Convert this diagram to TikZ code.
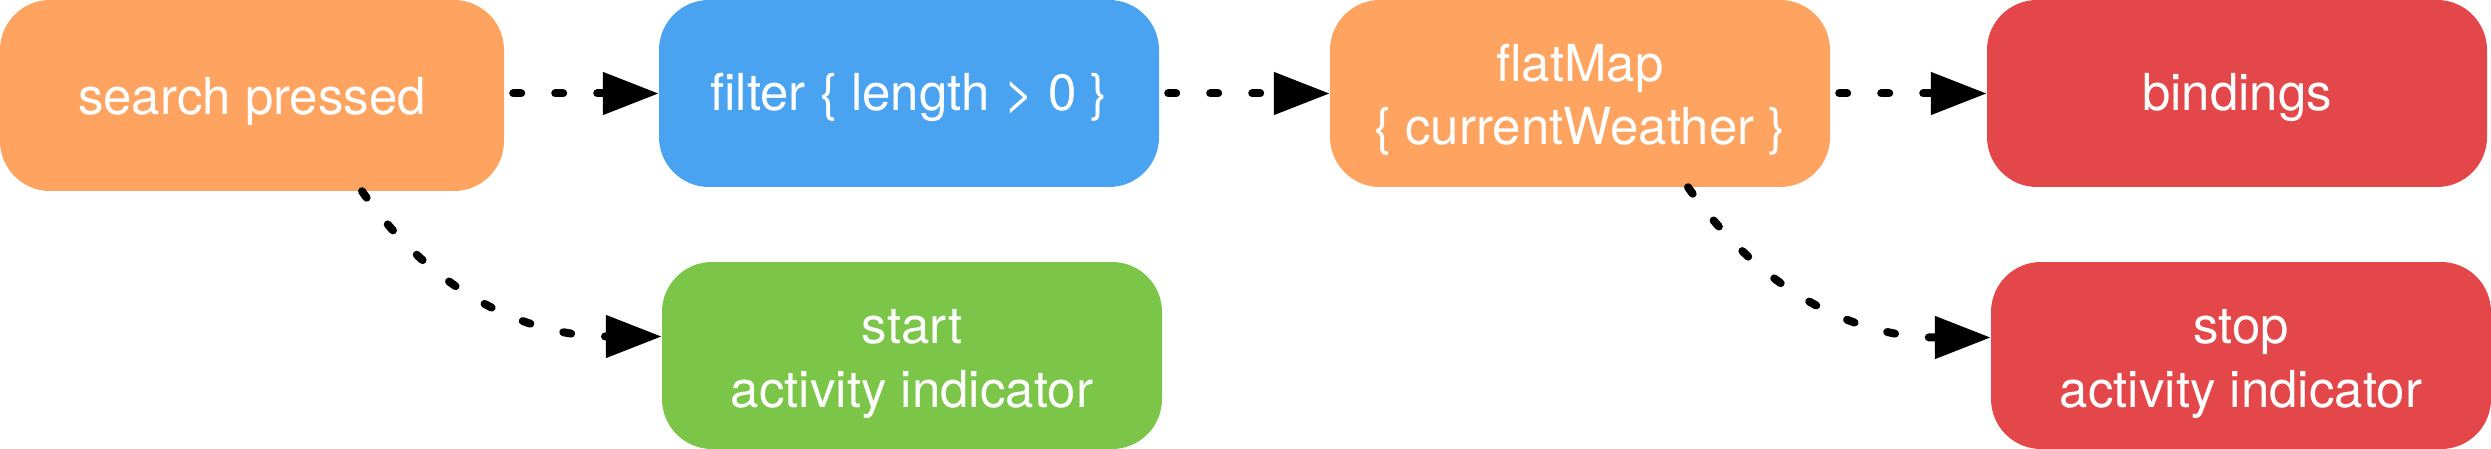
\documentclass[tikz,border=0pt]{standalone}
\usepackage{fontspec}
\setmainfont{TeX Gyre Heros}
\usetikzlibrary{arrows.meta,calc}
\definecolor{corange}{RGB}{255,163,96}
\definecolor{cblue}{RGB}{74,163,240}
\definecolor{cgreen}{RGB}{123,197,72}
\definecolor{cred}{RGB}{228,71,74}
\begin{document}
\begin{tikzpicture}[x=1pt,y=-1pt,
  box/.style={rectangle, rounded corners=50pt, draw=none, text=white, inner sep=0pt,
    minimum width=500pt, minimum height=187pt, align=center,
    font=\fontsize{51}{63.5}\selectfont},
  oneline/.style={text height=35pt, text depth=0pt},
  twoline/.style={text height=103pt, text depth=0pt},
  conn/.style={draw=black, line width=8pt, line cap=round, dash pattern=on 8pt off 34pt,
    -{Triangle[length=56pt,width=41pt]}},
  straightconn/.style={conn, shorten <=9pt}]
\useasboundingbox (0,0) rectangle (2491,449);
\node[box, oneline, fill=corange, minimum width=504pt, minimum height=191pt, text height=39pt] (search) at (252,95.5) {search pressed};
\node[box, oneline, fill=cblue] (filter) at (909,93.5) {filter \{ length > 0 \}};
\node[box, twoline, fill=cgreen] (start) at (912,355.5) {start\\activity indicator};
\node[box, twoline, fill=corange] (flat) at (1580,93.5) {flatMap\\\{ currentWeather \}};
\node[box, oneline, fill=cred] (bind) at (2237,93.5) {bindings};
\node[box, twoline, fill=cred] (stop) at (2241,355.5) {stop\\activity indicator};
\draw[straightconn] ([yshift=2pt]search.east) -- (filter.west);
\draw[straightconn] (filter.east) -- (flat.west);
\draw[straightconn] (flat.east) -- (bind.west);
\draw[conn] ([xshift=110pt]search.south) to[out=-55,in=180] ([yshift=19pt]start.west);
\draw[conn] ([xshift=108pt]flat.south) to[out=-55,in=180] ([yshift=18pt]stop.west);
\end{tikzpicture}
\end{document}
